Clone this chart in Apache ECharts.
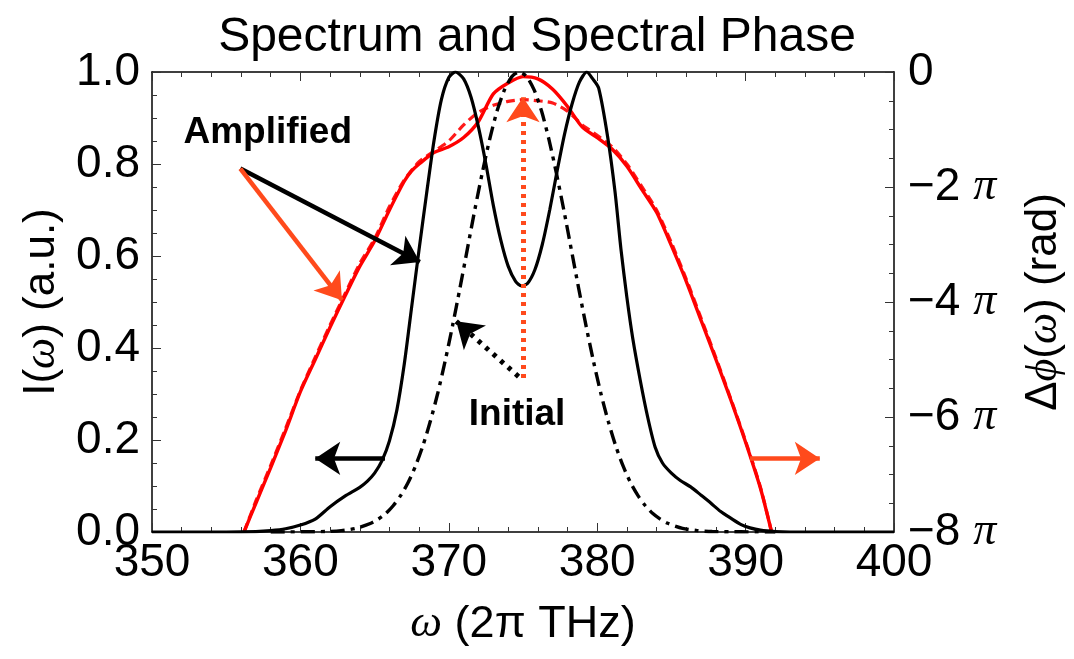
<!DOCTYPE html>
<html><head><meta charset="utf-8">
<script src="https://cdn.jsdelivr.net/npm/echarts@6/dist/echarts.min.js"></script>
<style>html,body{margin:0;padding:0;background:#fff}#c{width:1074px;height:659px}</style>
</head><body><div id="c"></div>
<script>
// Amplified spectrum intensity (black solid), [omega, I]
const amplifiedSpectrum = [[350,0],[355,0],[357,0.001],[358,0.003],[359,0.007],[360,0.015],[361,0.028],[362,0.055],[363,0.078],[364,0.097],[364.5,0.11],[365,0.128],[365.5,0.155],[366,0.198],[366.5,0.265],[367,0.365],[367.5,0.49],[368,0.615],[368.5,0.735],[369,0.85],[369.5,0.94],[370,0.988],[370.45,1.0],[371,0.985],[371.5,0.945],[372,0.88],[372.5,0.80],[373,0.71],[373.5,0.635],[374,0.578],[374.5,0.545],[374.9,0.535],[375.3,0.54],[375.8,0.57],[376.3,0.625],[376.8,0.70],[377.3,0.785],[377.8,0.865],[378.3,0.93],[378.8,0.978],[379.3,1.0],[379.7,0.985],[380.1,0.965],[380.7,0.86],[381.2,0.74],[381.6,0.615],[382.0,0.51],[382.4,0.42],[382.9,0.33],[383.4,0.25],[383.9,0.185],[384.4,0.15],[385,0.128],[385.6,0.112],[386.3,0.098],[387,0.08],[387.65,0.063],[388.3,0.045],[389,0.03],[389.7,0.016],[390.3,0.009],[391,0.004],[392,0.001],[393,0],[400,0]];
// Initial spectrum intensity (black dash-dot)
const initialSpectrum = [[358,0],[361.75,0.001],[362.75,0.003],[363.75,0.008],[364.75,0.019],[365.25,0.028],[365.75,0.040],[366.25,0.057],[366.75,0.079],[367.25,0.107],[367.75,0.143],[368.25,0.187],[368.75,0.240],[369.25,0.301],[369.75,0.371],[370.25,0.448],[370.75,0.530],[371.25,0.615],[371.75,0.700],[372.25,0.780],[372.75,0.853],[373.25,0.915],[373.75,0.961],[374.25,0.990],[374.75,1.0],[375.25,0.990],[375.75,0.961],[376.25,0.915],[376.75,0.853],[377.25,0.780],[377.75,0.700],[378.25,0.615],[378.75,0.530],[379.25,0.448],[379.75,0.371],[380.25,0.301],[380.75,0.240],[381.25,0.187],[381.75,0.143],[382.25,0.107],[382.75,0.079],[383.25,0.057],[383.75,0.040],[384.25,0.028],[384.75,0.019],[385.75,0.008],[386.75,0.003],[387.75,0.001],[392,0]];
// Amplified spectral phase (red solid), [omega, phase in units of pi]
const amplifiedPhase = [[356.2,-8],[357,-7.5],[358,-6.88],[359,-6.24],[360,-5.56],[361,-5.0],[362,-4.44],[363,-3.9],[364,-3.38],[365,-2.94],[366,-2.4],[367,-1.9],[367.5,-1.72],[368,-1.6],[369,-1.4],[370,-1.3],[371,-1.14],[372,-0.86],[373,-0.38],[374,-0.19],[375,-0.08],[376,-0.12],[377,-0.3],[378,-0.6],[379,-0.96],[380,-1.14],[381,-1.34],[382,-1.64],[383,-2.04],[384,-2.44],[385,-3.02],[386,-3.64],[387,-4.32],[388,-5.0],[389,-5.7],[390,-6.44],[391,-7.24],[391.75,-8]];
// Initial spectral phase (red dashed)
const initialPhase = [[356.2,-8],[357,-7.46],[358,-6.84],[359,-6.2],[360,-5.54],[361,-4.96],[362,-4.4],[363,-3.86],[364,-3.33],[365,-2.9],[366,-2.34],[367,-1.88],[368,-1.56],[369,-1.38],[370,-1.2],[371,-0.92],[372,-0.7],[373,-0.58],[374,-0.51],[375,-0.48],[376,-0.5],[377,-0.54],[378,-0.68],[379,-0.92],[380,-1.1],[381,-1.3],[382,-1.6],[383,-1.99],[384,-2.4],[385,-2.97],[386,-3.6],[387,-4.28],[388,-4.97],[389,-5.68],[390,-6.42],[391,-7.22],[391.75,-8]];
// Tick labels
const phaseTickLabels = {'0':'0','-2':'−2 {i|π}','-4':'−4 {i|π}','-6':'−6 {i|π}','-8':'−8 {i|π}'};
const intensityTickLabels = {'0':'0.0','0.2':'0.2','0.4':'0.4','0.6':'0.6','0.8':'0.8','1':'1.0'};
// Annotation anchors (data coordinates: omega, intensity)
const amplifiedArrowStart = [355.95, 0.79];
const amplifiedBlackArrowEnd = [368.05, 0.587];
const amplifiedRedArrowEnd = [362.8, 0.504];
const leftArrow = [[365.7, 0.16], [361.0, 0.16]];
const rightArrow = [[390.3, 0.16], [395.0, 0.16]];
const initialBlackArrow = [[374.7, 0.338], [370.5, 0.458]];
const initialRedArrow = [[375.0, 0.335], [375.0, 0.945]];
const amplifiedLabelPos = [357.8, 0.867];
const initialLabelPos = [374.6, 0.254];

const SANS = "'Liberation Sans', Arial, Helvetica, sans-serif";
const SERIF = "'Liberation Serif', 'Times New Roman', serif";
const ORANGE = '#ff4a1c';
const italicRich = (size) => ({ i: { fontFamily: SERIF, fontStyle: 'italic', fontSize: size, color: '#000' }, n: { fontFamily: SANS, fontSize: size, color: '#000' } });

const axisLineStyle = { color: '#000', width: 1.5 };
const tickStyle = { color: '#333', width: 1 };

const chart = echarts.init(document.getElementById('c'), null, { renderer: 'canvas' });
const option = {
  animation: false,
  backgroundColor: '#fff',
  title: {
    text: 'Spectrum and Spectral Phase', left: 'center', top: 9,
    textStyle: { fontFamily: SANS, fontSize: 48, fontWeight: 'normal', color: '#000' }
  },
  grid: { left: 152, right: 177, top: 72, bottom: 127, containLabel: false },
  xAxis: [
    {
      type: 'value', min: 350, max: 400, interval: 10, position: 'bottom',
      axisLine: { show: true, onZero: false, lineStyle: axisLineStyle },
      axisTick: { show: true, inside: true, length: 9, lineStyle: tickStyle },
      minorTick: { show: true, splitNumber: 5, length: 5, lineStyle: tickStyle },
      splitLine: { show: false },
      axisLabel: { fontFamily: SANS, fontSize: 46, color: '#000', margin: 8 },
      name: '{i|ω} {n|(2π THz)}', nameLocation: 'middle', nameGap: 70,
      nameTextStyle: { fontFamily: SANS, fontSize: 45, color: '#000', rich: italicRich(45) }
    },
    {
      type: 'value', min: 350, max: 400, interval: 10, position: 'top',
      axisLine: { show: true, onZero: false, lineStyle: axisLineStyle },
      axisTick: { show: true, inside: true, length: 9, lineStyle: tickStyle },
      minorTick: { show: true, splitNumber: 5, length: 5, lineStyle: tickStyle },
      splitLine: { show: false }, axisLabel: { show: false }
    }
  ],
  yAxis: [
    {
      type: 'value', min: 0, max: 1, interval: 0.2, position: 'left',
      axisLine: { show: true, onZero: false, lineStyle: axisLineStyle },
      axisTick: { show: true, inside: true, length: 9, lineStyle: tickStyle },
      minorTick: { show: true, splitNumber: 4, length: 5, lineStyle: tickStyle },
      splitLine: { show: false },
      axisLabel: { fontFamily: SANS, fontSize: 46, color: '#000', margin: 12,
        formatter: v => intensityTickLabels[String(Math.round(v * 10) / 10)] },
      name: '{n|I(}{i|ω}{n|) (a.u.)}', nameLocation: 'middle', nameGap: 88, nameRotate: 90,
      nameTextStyle: { fontFamily: SANS, fontSize: 44, color: '#000', rich: italicRich(44) }
    },
    {
      type: 'value', min: -8, max: 0, interval: 2, position: 'right',
      axisLine: { show: true, onZero: false, lineStyle: axisLineStyle },
      axisTick: { show: true, inside: true, length: 9, lineStyle: tickStyle },
      minorTick: { show: true, splitNumber: 4, length: 5, lineStyle: tickStyle },
      splitLine: { show: false },
      axisLabel: { fontFamily: SANS, fontSize: 46, color: '#000', margin: 14,
        formatter: v => phaseTickLabels[String(Math.round(v))], rich: { i: { fontFamily: SERIF, fontStyle: 'italic', fontSize: 46, color: '#000' } } },
      name: '{n|Δ}{i|ϕ}{n|(}{i|ω}{n|) (rad)}', nameLocation: 'middle', nameGap: 128, nameRotate: 90,
      nameTextStyle: { fontFamily: SANS, fontSize: 44, color: '#000', rich: italicRich(44) }
    }
  ],
  series: [
    {
      name: 'Initial phase', type: 'line', xAxisIndex: 0, yAxisIndex: 1, data: initialPhase,
      showSymbol: false, smooth: 0.25, silent: true,
      lineStyle: { color: '#ff1a1a', width: 3.2, type: [9, 5] }
    },
    {
      name: 'Amplified phase', type: 'line', xAxisIndex: 0, yAxisIndex: 1, data: amplifiedPhase,
      showSymbol: false, smooth: 0.25, silent: true,
      lineStyle: { color: '#ff0000', width: 3.4 }
    },
    {
      name: 'Initial spectrum', type: 'line', xAxisIndex: 0, yAxisIndex: 0, data: initialSpectrum,
      showSymbol: false, smooth: 0.25, silent: true,
      lineStyle: { color: '#000', width: 3.4, type: [14, 6, 4, 6] }
    },
    {
      name: 'Amplified spectrum', type: 'line', xAxisIndex: 0, yAxisIndex: 0, data: amplifiedSpectrum,
      showSymbol: false, smooth: 0.25, silent: true,
      lineStyle: { color: '#000', width: 3.2 },
      markLine: {
        silent: true, symbol: ['none', 'arrow'], symbolSize: 25, label: { show: false },
        emphasis: { disabled: true },
        data: [
          [{ coord: amplifiedArrowStart, lineStyle: { color: '#000', width: 4.5, type: 'solid' } }, { coord: amplifiedBlackArrowEnd }],
          [{ coord: amplifiedArrowStart, lineStyle: { color: ORANGE, width: 4.5, type: 'solid' } }, { coord: amplifiedRedArrowEnd }],
          [{ coord: leftArrow[0], lineStyle: { color: '#000', width: 4.5, type: 'solid' } }, { coord: leftArrow[1] }],
          [{ coord: rightArrow[0], lineStyle: { color: ORANGE, width: 4.5, type: 'solid' } }, { coord: rightArrow[1] }],
          [{ coord: initialBlackArrow[0], lineStyle: { color: '#000', width: 5, type: [4, 6] } }, { coord: initialBlackArrow[1] }],
          [{ coord: initialRedArrow[0], lineStyle: { color: ORANGE, width: 5, type: [4, 5] } }, { coord: initialRedArrow[1] }]
        ]
      },
      markPoint: {
        silent: true, symbol: 'circle', symbolSize: 0,
        data: [
          { coord: amplifiedLabelPos, label: { show: true, position: 'inside', formatter: 'Amplified', fontFamily: SANS, fontWeight: 'bold', fontSize: 37, color: '#000' } },
          { coord: initialLabelPos, label: { show: true, position: 'inside', formatter: 'Initial', fontFamily: SANS, fontWeight: 'bold', fontSize: 37, color: '#000' } }
        ]
      }
    }
  ]
};
chart.setOption(option);
</script>
</body></html>
